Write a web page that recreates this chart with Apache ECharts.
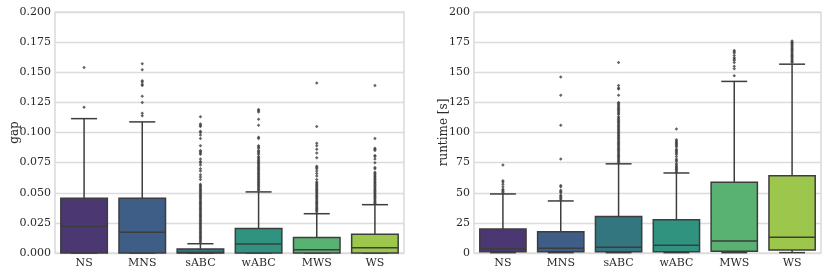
<!DOCTYPE html>
<html>
<head>
<meta charset="utf-8">
<script src="https://cdn.jsdelivr.net/npm/echarts@6/dist/echarts.min.js"></script>
<style>
html,body{margin:0;padding:0;background:#fff;}
#chart{width:831px;height:275px;}
</style>
</head>
<body>
<div id="chart"></div>
<script>
// ---- data ----
const categories = ['NS', 'MNS', 'sABC', 'wABC', 'MWS', 'WS'];
const gapTicks = [0, 0.025, 0.05, 0.075, 0.1, 0.125, 0.15, 0.175, 0.2];
const runtimeTicks = [0, 25, 50, 75, 100, 125, 150, 175, 200];

// [lower whisker, Q1, median, Q3, upper whisker]
const gapNS   = [0, 0, 0.022, 0.0455, 0.1115];
const gapMNS  = [0, 0, 0.0173, 0.0455, 0.1088];
const gapSABC = [0, 0, 0.0005, 0.0033, 0.0077];
const gapWABC = [0, 0, 0.0075, 0.0203, 0.0507];
const gapMWS  = [0, 0, 0.0027, 0.0128, 0.0326];
const gapWS   = [0, 0, 0.0044, 0.0156, 0.0401];

const gapOutNS   = [0.121, 0.154];
const gapOutMNS  = [0.114, 0.116, 0.125, 0.130, 0.139, 0.140, 0.142, 0.143, 0.152, 0.157];
const gapOutSABC = [0.113, 0.107, 0.106, 0.105, 0.101, 0.100, 0.098, 0.095, 0.089, 0.085, 0.084, 0.083,
  0.082, 0.078, 0.076, 0.075, 0.073, 0.070, 0.068, 0.065, 0.063, 0.061, 0.057, 0.056, 0.055, 0.054,
  0.053, 0.052, 0.051, 0.050, 0.049, 0.048, 0.047, 0.046, 0.045, 0.044, 0.043, 0.042, 0.041, 0.040,
  0.039, 0.038, 0.037, 0.036, 0.035, 0.034, 0.033, 0.032, 0.031, 0.030, 0.029, 0.028, 0.027, 0.026,
  0.025, 0.024, 0.023, 0.022, 0.021, 0.020, 0.019, 0.018, 0.017, 0.016, 0.015, 0.014, 0.013, 0.012,
  0.011, 0.010, 0.009];
const gapOutWABC = [0.119, 0.118, 0.117, 0.111, 0.106, 0.096, 0.095, 0.089, 0.088, 0.087, 0.085, 0.084,
  0.083, 0.082, 0.080, 0.079, 0.078, 0.077, 0.076, 0.075, 0.074, 0.073, 0.072, 0.071, 0.070, 0.069,
  0.068, 0.067, 0.066, 0.065, 0.064, 0.063, 0.062, 0.061, 0.060, 0.059, 0.058, 0.057, 0.056, 0.055,
  0.054, 0.053, 0.052];
const gapOutMWS  = [0.141, 0.105, 0.091, 0.089, 0.086, 0.083, 0.079, 0.072, 0.071, 0.070, 0.068, 0.066,
  0.064, 0.061, 0.059, 0.058, 0.057, 0.056, 0.055, 0.054, 0.053, 0.052, 0.051, 0.050, 0.049, 0.048,
  0.047, 0.046, 0.045, 0.044, 0.043, 0.042, 0.041, 0.040, 0.039, 0.038, 0.037, 0.036, 0.035, 0.034];
const gapOutWS   = [0.139, 0.095, 0.087, 0.086, 0.085, 0.081, 0.080, 0.078, 0.075, 0.071, 0.070, 0.067,
  0.066, 0.065, 0.064, 0.063, 0.062, 0.061, 0.060, 0.059, 0.058, 0.057, 0.056, 0.055, 0.054, 0.053,
  0.052, 0.051, 0.050, 0.049, 0.048, 0.047, 0.046, 0.045, 0.044, 0.043, 0.042, 0.041];

const rtNS   = [0.3, 1.0, 3.5, 19.9, 49];
const rtMNS  = [0.3, 1.0, 4.0, 17.7, 43.2];
const rtSABC = [0.3, 1.0, 4.8, 30.2, 74];
const rtWABC = [0.3, 1.0, 6.4, 27.5, 66.4];
const rtMWS  = [0.3, 1.5, 10, 58.8, 142.4];
const rtWS   = [0.3, 2.5, 13, 64.2, 156.7];

const rtOutNS   = [73, 60, 59, 57, 55, 53, 52, 51, 50];
const rtOutMNS  = [146, 131, 106, 78, 56, 55, 52, 51, 50, 48, 47, 46, 45, 44];
const rtOutSABC = [158, 139, 137, 136, 131, 125, 124, 123, 122, 121, 120, 119, 118, 117, 116, 115, 113,
  112, 111, 110, 109, 108, 107, 106, 105, 104, 103, 102, 101, 100, 99, 98, 97, 96, 95, 94, 93, 92, 91,
  90, 89, 88, 87, 86, 85, 84, 83, 82, 81, 80, 79, 78, 77, 76, 75];
const rtOutWABC = [103, 94, 93, 92, 91, 90, 89, 88, 86, 85, 84, 83, 82, 80, 78, 77, 76, 74, 73, 72, 71,
  70, 69, 68, 67];
const rtOutMWS  = [168, 167, 166, 164, 162, 161, 160, 158, 155, 153, 147];
const rtOutWS   = [176, 175, 174, 173, 172, 171, 170, 169, 168, 167, 166, 165, 164, 163, 162, 161, 160,
  159, 158];

// ---- styles ----
const palette = ['#4b3872', '#3f5e87', '#33767f', '#2f9380', '#5ab272', '#9cc64c'];
const EDGE = '#3d3d3d';
const FONT = 'DejaVu Serif';
const TEXT = '#2a2a2a';

const gapStats = [gapNS, gapMNS, gapSABC, gapWABC, gapMWS, gapWS];
const gapOut = [gapOutNS, gapOutMNS, gapOutSABC, gapOutWABC, gapOutMWS, gapOutWS];
const rtStats = [rtNS, rtMNS, rtSABC, rtWABC, rtMWS, rtWS];
const rtOut = [rtOutNS, rtOutMNS, rtOutSABC, rtOutWABC, rtOutMWS, rtOutWS];

function boxData(stats) {
  return stats.map((s, i) => [i].concat(s));
}
function outData(outs) {
  const res = [];
  outs.forEach((arr, i) => arr.forEach(v => res.push([i, v])));
  return res;
}

function renderBox(params, api) {
  const x = api.value(0);
  const pMin = api.coord([x, api.value(1)]);
  const pQ1 = api.coord([x, api.value(2)]);
  const pMed = api.coord([x, api.value(3)]);
  const pQ3 = api.coord([x, api.value(4)]);
  const pMax = api.coord([x, api.value(5)]);
  const bw = api.size([1, 0])[0] * 0.8;
  const cx = pMed[0];
  const ls = { stroke: EDGE, lineWidth: 1.5 };
  const cap = bw * 0.28;
  return {
    type: 'group',
    children: [
      { type: 'line', shape: { x1: cx, y1: pQ3[1], x2: cx, y2: pMax[1] }, style: ls },
      { type: 'line', shape: { x1: cx, y1: pMin[1], x2: cx, y2: pQ1[1] }, style: ls },
      { type: 'line', shape: { x1: cx - cap, y1: pMax[1], x2: cx + cap, y2: pMax[1] }, style: ls },
      { type: 'line', shape: { x1: cx - cap, y1: pMin[1], x2: cx + cap, y2: pMin[1] }, style: ls },
      { type: 'rect', shape: { x: cx - bw / 2, y: pQ3[1], width: bw, height: pQ1[1] - pQ3[1] },
        style: { fill: palette[params.dataIndex], stroke: EDGE, lineWidth: 1.5 } },
      { type: 'line', shape: { x1: cx - bw / 2, y1: pMed[1], x2: cx + bw / 2, y2: pMed[1] }, style: ls }
    ]
  };
}

const chart = echarts.init(document.getElementById('chart'), null, { renderer: 'canvas' });

function xAxisCfg(gi) {
  return {
    type: 'category', gridIndex: gi, data: categories, boundaryGap: true,
    axisLine: { show: false }, axisTick: { show: false },
    axisLabel: { color: TEXT, fontFamily: FONT, fontSize: 11, margin: 5 },
    splitLine: { show: false }
  };
}
function yAxisCfg(gi, ticks, name, gap, fmt) {
  return {
    type: 'value', gridIndex: gi, min: ticks[0], max: ticks[ticks.length - 1],
    interval: ticks[1] - ticks[0],
    name: name, nameLocation: 'middle', nameGap: gap, nameMoveOverlap: false,
    nameTextStyle: { color: TEXT, fontFamily: FONT, fontSize: 12 },
    axisLine: { show: false }, axisTick: { show: false },
    axisLabel: { color: TEXT, fontFamily: FONT, fontSize: 11, margin: 4, formatter: fmt },
    splitLine: { show: true, lineStyle: { color: '#dcdcdc', width: 1.3 } }
  };
}

chart.setOption({
  animation: false,
  backgroundColor: '#ffffff',
  grid: [
    { left: 55, right: 427, top: 12, bottom: 22, show: true, borderColor: '#d0d0d0', borderWidth: 1.2, backgroundColor: 'transparent' },
    { left: 474, right: 10, top: 12, bottom: 22, show: true, borderColor: '#d0d0d0', borderWidth: 1.2, backgroundColor: 'transparent' }
  ],
  xAxis: [xAxisCfg(0), xAxisCfg(1)],
  yAxis: [
    yAxisCfg(0, gapTicks, 'gap', 34, v => v.toFixed(3)),
    yAxisCfg(1, runtimeTicks, 'runtime [s]', 24, v => String(Math.round(v)))
  ],
  series: [
    { type: 'custom', xAxisIndex: 0, yAxisIndex: 0, data: boxData(gapStats), renderItem: renderBox, clip: false, z: 2 },
    { type: 'scatter', xAxisIndex: 0, yAxisIndex: 0, data: outData(gapOut), symbol: 'diamond', symbolSize: 3.5,
      itemStyle: { color: EDGE }, z: 3, silent: true },
    { type: 'custom', xAxisIndex: 1, yAxisIndex: 1, data: boxData(rtStats), renderItem: renderBox, clip: false, z: 2 },
    { type: 'scatter', xAxisIndex: 1, yAxisIndex: 1, data: outData(rtOut), symbol: 'diamond', symbolSize: 3.5,
      itemStyle: { color: EDGE }, z: 3, silent: true }
  ]
});
</script>
</body>
</html>
